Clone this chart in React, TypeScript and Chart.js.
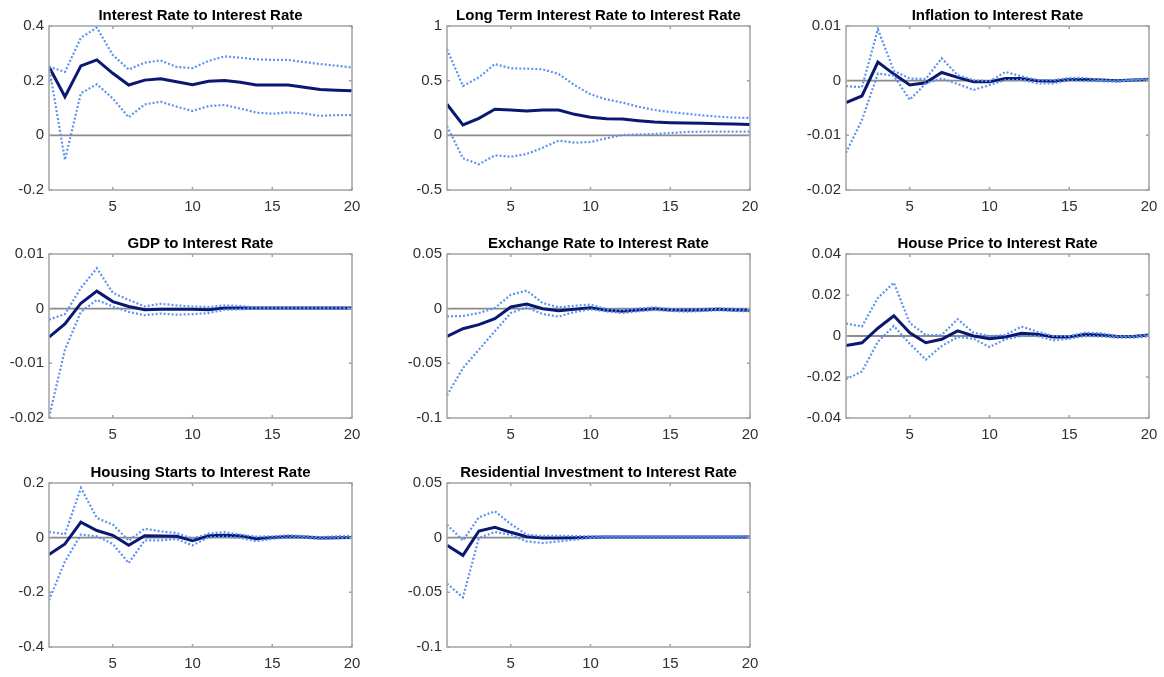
import React, { useEffect, useRef } from "react";
import { Chart, registerables } from "chart.js";

Chart.register(...registerables);

// ---------- data ----------
const horizon = [1, 2, 3, 4, 5, 6, 7, 8, 9, 10, 11, 12, 13, 14, 15, 16, 17, 18, 19, 20];
const xTickValues = [5, 10, 15, 20];

const titles = [
  "Interest Rate to Interest Rate",
  "Long Term Interest Rate to Interest Rate",
  "Inflation to Interest Rate",
  "GDP to Interest Rate",
  "Exchange Rate to Interest Rate",
  "House Price to Interest Rate",
  "Housing Starts to Interest Rate",
  "Residential Investment to Interest Rate",
];

const irTicks = [-0.2, 0, 0.2, 0.4];
const irTickLabels = ["-0.2", "0", "0.2", "0.4"];
const irCenter = [0.251, 0.141, 0.254, 0.276, 0.227, 0.184, 0.202, 0.207, 0.196, 0.185, 0.198, 0.201, 0.194, 0.184, 0.184, 0.184, 0.176, 0.168, 0.165, 0.163];
const irUpper = [0.251, 0.232, 0.357, 0.394, 0.294, 0.241, 0.266, 0.274, 0.25, 0.246, 0.272, 0.289, 0.284, 0.278, 0.276, 0.276, 0.268, 0.261, 0.255, 0.248];
const irLower = [0.251, -0.09, 0.154, 0.187, 0.135, 0.066, 0.113, 0.123, 0.105, 0.089, 0.107, 0.111, 0.098, 0.083, 0.079, 0.084, 0.08, 0.071, 0.074, 0.074];

const ltTicks = [-0.5, 0, 0.5, 1];
const ltTickLabels = ["-0.5", "0", "0.5", "1"];
const ltCenter = [0.284, 0.095, 0.155, 0.238, 0.232, 0.223, 0.232, 0.232, 0.192, 0.165, 0.152, 0.149, 0.134, 0.122, 0.116, 0.113, 0.11, 0.107, 0.104, 0.098];
const ltUpper = [0.787, 0.451, 0.53, 0.652, 0.613, 0.61, 0.604, 0.561, 0.46, 0.375, 0.329, 0.299, 0.262, 0.232, 0.213, 0.198, 0.183, 0.171, 0.162, 0.159];
const ltLower = [0.085, -0.21, -0.265, -0.183, -0.195, -0.171, -0.113, -0.049, -0.067, -0.061, -0.027, 0.003, 0.009, 0.012, 0.021, 0.03, 0.034, 0.034, 0.034, 0.034];

const infTicks = [-0.02, -0.01, 0, 0.01];
const infTickLabels = ["-0.02", "-0.01", "0", "0.01"];
const infCenter = [-0.004, -0.0028, 0.0034, 0.0012, -0.0008, -0.0004, 0.0015, 0.0006, -0.0002, -0.0002, 0.0004, 0.0004, 0.0, -0.0001, 0.0002, 0.0002, 0.0001, 0.0, 0.0001, 0.0002];
const infUpper = [-0.001, -0.0012, 0.0094, 0.0018, 0.0004, 0.0003, 0.0041, 0.001, 0.0001, -0.0001, 0.0016, 0.0008, 0.0001, 0.0001, 0.0005, 0.0005, 0.0001, 0.0, 0.0002, 0.0004];
const infLower = [-0.0132, -0.0072, 0.0013, 0.0009, -0.0035, -0.0005, 0.0004, -0.0006, -0.0017, -0.0008, 0.0001, 0.0002, -0.0005, -0.0005, 0.0001, -0.0001, -0.0001, -0.0002, 0.0001, 0.0001];

const gdpTicks = [-0.02, -0.01, 0, 0.01];
const gdpTickLabels = ["-0.02", "-0.01", "0", "0.01"];
const gdpCenter = [-0.0052, -0.0028, 0.001, 0.0032, 0.0013, 0.0004, -0.0002, -0.0001, -0.0001, -0.0001, -0.0002, 0.0001, 0.0001, 0.0001, 0.0001, 0.0001, 0.0001, 0.0001, 0.0001, 0.0001];
const gdpUpper = [-0.002, -0.001, 0.0038, 0.0074, 0.0029, 0.0016, 0.0004, 0.0009, 0.0006, 0.0004, 0.0003, 0.0006, 0.0005, 0.0002, 0.0001, 0.0001, 0.0001, 0.0001, 0.0001, 0.0001];
const gdpLower = [-0.0199, -0.0075, -0.0006, 0.0016, 0.0004, -0.0006, -0.0012, -0.0009, -0.0011, -0.001, -0.0008, -0.0002, -0.0001, 0.0, 0.0, 0.0, 0.0, 0.0, 0.0, 0.0];

const fxTicks = [-0.1, -0.05, 0, 0.05];
const fxTickLabels = ["-0.1", "-0.05", "0", "0.05"];
const fxCenter = [-0.0253, -0.0183, -0.0146, -0.0091, 0.0015, 0.0043, 0.0, -0.0018, -0.0006, 0.0009, -0.0015, -0.0024, -0.0012, 0.0, -0.0012, -0.0015, -0.0012, -0.0006, -0.0012, -0.0015];
const fxUpper = [-0.007, -0.0067, -0.004, 0.0006, 0.0128, 0.0165, 0.0052, 0.0012, 0.0027, 0.0037, -0.0003, -0.0012, 0.0, 0.0012, -0.0003, -0.0006, -0.0003, 0.0003, -0.0003, -0.0006];
const fxLower = [-0.0793, -0.0543, -0.0375, -0.0207, -0.004, 0.0012, -0.0049, -0.0073, -0.003, -0.0006, -0.0024, -0.004, -0.0024, -0.0012, -0.0021, -0.0027, -0.0021, -0.0015, -0.0021, -0.0024];

const hpTicks = [-0.04, -0.02, 0, 0.02, 0.04];
const hpTickLabels = ["-0.04", "-0.02", "0", "0.02", "0.04"];
const hpCenter = [-0.0046, -0.0033, 0.0038, 0.0099, 0.0016, -0.0033, -0.0016, 0.0025, 0.0, -0.0013, -0.0005, 0.0013, 0.0008, -0.0005, -0.0005, 0.0008, 0.0005, -0.0003, -0.0003, 0.0005];
const hpUpper = [0.0061, 0.0046, 0.0186, 0.026, 0.0063, 0.0005, 0.0005, 0.0082, 0.0016, 0.0, 0.0005, 0.0046, 0.0021, 0.0, 0.0, 0.0016, 0.0013, 0.0, 0.0, 0.0008];
const hpLower = [-0.0211, -0.0173, -0.0028, 0.0049, -0.0038, -0.0115, -0.0049, -0.0005, -0.0013, -0.0054, -0.0016, 0.0, 0.0, -0.0021, -0.0013, 0.0, -0.0002, -0.0008, -0.0008, -0.0002];

const hsTicks = [-0.4, -0.2, 0, 0.2];
const hsTickLabels = ["-0.4", "-0.2", "0", "0.2"];
const hsCenter = [-0.062, -0.023, 0.057, 0.026, 0.0085, -0.028, 0.007, 0.006, 0.005, -0.011, 0.007, 0.0085, 0.007, -0.004, 0.001, 0.004, 0.002, -0.001, 0.0, 0.001];
const hsUpper = [0.021, 0.013, 0.182, 0.072, 0.048, -0.011, 0.033, 0.023, 0.017, -0.004, 0.015, 0.02, 0.011, 0.004, 0.005, 0.0085, 0.006, 0.002, 0.005, 0.007];
const hsLower = [-0.229, -0.087, 0.011, 0.005, -0.023, -0.093, -0.01, -0.01, -0.005, -0.028, 0.001, 0.004, -0.001, -0.013, -0.004, 0.0, 0.0, -0.005, -0.002, 0.0];

const riTicks = [-0.1, -0.05, 0, 0.05];
const riTickLabels = ["-0.1", "-0.05", "0", "0.05"];
const riCenter = [-0.007, -0.0162, 0.0061, 0.0095, 0.0049, 0.0009, -0.0003, -0.0003, 0.0, 0.0003, 0.0006, 0.0006, 0.0006, 0.0006, 0.0006, 0.0006, 0.0006, 0.0006, 0.0006, 0.0006];
const riUpper = [0.0119, -0.0027, 0.0186, 0.0241, 0.0125, 0.0027, 0.0015, 0.0018, 0.0015, 0.0012, 0.0012, 0.0012, 0.0012, 0.0012, 0.0012, 0.0012, 0.0012, 0.0012, 0.0012, 0.0012];
const riLower = [-0.042, -0.0546, -0.0003, 0.0052, 0.0027, -0.0034, -0.0049, -0.0034, -0.0018, -0.0003, 0.0003, 0.0003, 0.0003, 0.0003, 0.0003, 0.0003, 0.0003, 0.0003, 0.0003, 0.0003];

const panelTicks = [irTicks, ltTicks, infTicks, gdpTicks, fxTicks, hpTicks, hsTicks, riTicks];
const panelTickLabels = [irTickLabels, ltTickLabels, infTickLabels, gdpTickLabels, fxTickLabels, hpTickLabels, hsTickLabels, riTickLabels];
const panelCenter = [irCenter, ltCenter, infCenter, gdpCenter, fxCenter, hpCenter, hsCenter, riCenter];
const panelUpper = [irUpper, ltUpper, infUpper, gdpUpper, fxUpper, hpUpper, hsUpper, riUpper];
const panelLower = [irLower, ltLower, infLower, gdpLower, fxLower, hpLower, hsLower, riLower];

// ---------- layout / style ----------
const plotLefts = [49, 447, 846];
const plotTops = [26, 254, 483];
const PLOT_W = 303;
const PLOT_H = 164;
const M_LEFT = 48;
const M_TOP = 28;
const M_RIGHT = 24;
const M_BOTTOM = 28;
const FONT = "'Liberation Sans', Arial, Helvetica, sans-serif";
const AXIS_COLOR = "#a3a3a3";
const CENTER_COLOR = "#0a1872";
const BAND_COLOR = "#5c93f0";
const ZERO_COLOR = "#8a8a8a";
const TICK_TEXT = "#303030";

const matlabAxes = {
  id: "matlabAxes",
  afterDraw(chart: any) {
    const { ctx, chartArea, scales } = chart;
    const { left, right, top, bottom } = chartArea;
    const tl = 3;
    ctx.save();
    ctx.strokeStyle = AXIS_COLOR;
    ctx.lineWidth = 1.5;
    ctx.beginPath();
    for (const t of scales.x.ticks) {
      const px = scales.x.getPixelForValue(t.value);
      ctx.moveTo(px, bottom);
      ctx.lineTo(px, bottom - tl);
      ctx.moveTo(px, top);
      ctx.lineTo(px, top + tl);
    }
    for (const t of scales.y.ticks) {
      const py = scales.y.getPixelForValue(t.value);
      ctx.moveTo(left, py);
      ctx.lineTo(left + tl, py);
      ctx.moveTo(right, py);
      ctx.lineTo(right - tl, py);
    }
    ctx.stroke();
    ctx.strokeRect(left, top, right - left, bottom - top);
    const title = chart.options.plugins.panelTitle?.text;
    if (title) {
      ctx.fillStyle = "#000000";
      ctx.font = `bold 15px ${FONT}`;
      ctx.textAlign = "center";
      ctx.textBaseline = "alphabetic";
      ctx.fillText(title, (left + right) / 2, top - 6);
    }
    ctx.restore();
  },
};

function Panel({ idx, left, top }: { idx: number; left: number; top: number }) {
  const ref = useRef<HTMLCanvasElement | null>(null);
  const W = PLOT_W + M_LEFT + M_RIGHT;
  const H = PLOT_H + M_TOP + M_BOTTOM;
  useEffect(() => {
    if (!ref.current) return;
    const ticks = panelTicks[idx];
    const labels = panelTickLabels[idx];
    const toXY = (arr: number[]) => horizon.map((h, i) => ({ x: h, y: arr[i] }));
    const tickFont = { family: FONT, size: 15 };
    const chart = new Chart(ref.current, {
      type: "line",
      data: {
        datasets: [
          {
            data: toXY(panelUpper[idx]),
            borderColor: BAND_COLOR,
            borderWidth: 2.2,
            borderDash: [2, 2],
            pointRadius: 0,
            tension: 0,
            order: 0,
          },
          {
            data: toXY(panelLower[idx]),
            borderColor: BAND_COLOR,
            borderWidth: 2.2,
            borderDash: [2, 2],
            pointRadius: 0,
            tension: 0,
            order: 0,
          },
          {
            data: toXY(panelCenter[idx]),
            borderColor: CENTER_COLOR,
            borderWidth: 3,
            pointRadius: 0,
            tension: 0,
            order: 1,
          },
          {
            data: [
              { x: horizon[0], y: 0 },
              { x: horizon[horizon.length - 1], y: 0 },
            ],
            borderColor: ZERO_COLOR,
            borderWidth: 1.8,
            pointRadius: 0,
            order: 2,
          },
        ],
      },
      options: {
        animation: false,
        responsive: false,
        events: [],
        layout: { padding: { left: 0, top: M_TOP, right: M_RIGHT, bottom: 0 } },
        plugins: {
          legend: { display: false },
          tooltip: { enabled: false },
          title: { display: false },
          panelTitle: { text: titles[idx] },
        } as any,
        scales: {
          x: {
            type: "linear",
            min: horizon[0],
            max: horizon[horizon.length - 1],
            afterBuildTicks: (s: any) => {
              s.ticks = xTickValues.map((v) => ({ value: v }));
            },
            afterFit: (s: any) => {
              s.height = M_BOTTOM;
            },
            grid: { display: false, drawTicks: false, tickLength: 0 },
            border: { display: false },
            ticks: {
              font: tickFont,
              color: TICK_TEXT,
              padding: 8,
              maxRotation: 0,
              autoSkip: false,
              callback: (v: any) => String(v),
            },
          },
          y: {
            type: "linear",
            min: ticks[0],
            max: ticks[ticks.length - 1],
            afterBuildTicks: (s: any) => {
              s.ticks = ticks.map((v) => ({ value: v }));
            },
            afterFit: (s: any) => {
              s.width = M_LEFT;
            },
            grid: { display: false, drawTicks: false, tickLength: 0 },
            border: { display: false },
            ticks: {
              font: tickFont,
              color: TICK_TEXT,
              padding: 5,
              autoSkip: false,
              callback: (_v: any, i: number) => labels[i],
            },
          },
        },
      },
      plugins: [matlabAxes],
    } as any);
    return () => chart.destroy();
  }, [idx]);
  return (
    <div style={{ position: "absolute", left: left - M_LEFT, top: top - M_TOP, width: W, height: H }}>
      <canvas ref={ref} width={W} height={H} style={{ width: W, height: H, display: "block" }} />
    </div>
  );
}

export default function App() {
  const panels = titles.map((_, i) => {
    const col = i % 3;
    const row = Math.floor(i / 3);
    return <Panel key={i} idx={i} left={plotLefts[col]} top={plotTops[row]} />;
  });
  return (
    <div style={{ position: "absolute", left: 0, top: 0, width: 1164, height: 677, background: "#ffffff", overflow: "hidden" }}>
      {panels}
    </div>
  );
}
